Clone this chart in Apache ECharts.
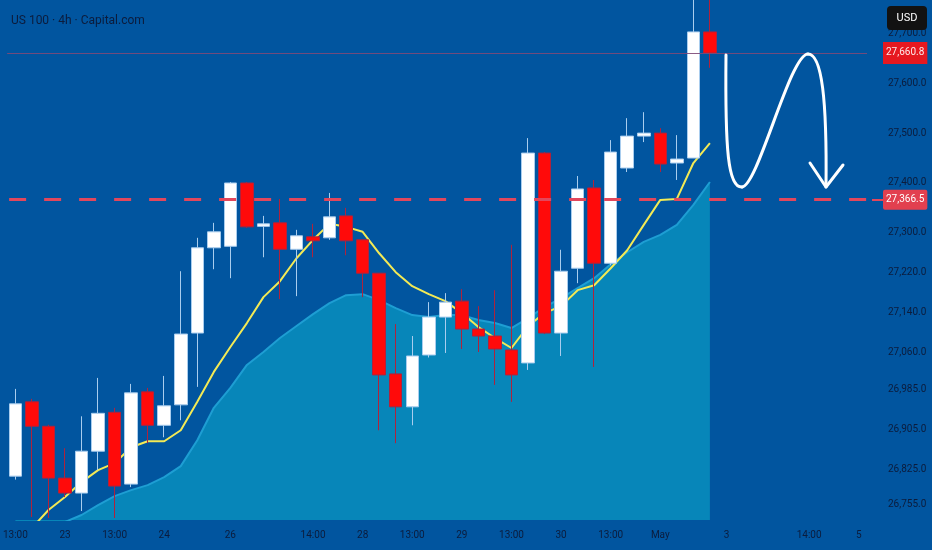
<!DOCTYPE html>
<html>
<head>
<meta charset="utf-8">
<script src="https://cdn.jsdelivr.net/npm/echarts@6/dist/echarts.min.js"></script>
<style>
html,body{margin:0;padding:0;background:#01559f;}
#chart{width:932px;height:550px;}
</style>
</head>
<body>
<div id="chart"></div>
<script>
// x categories (4h bars) — label text where shown, '' otherwise
const categories = ['13:00','','','23','','','13:00','','','24','','','','26','','','','','14:00','','','28','','','13:00','','','29','','','13:00','','','30','','','13:00','','','May','','','','3','','','','','14:00','','','5'];

// OHLC of each 4h candle
const opens  = [26812,26961,26912,26808,26778,26862,26940,26796,26981,26914,26955,27099,27270,27273,27400,27313,27320,27267,27292,27290,27334,27286,27219,27017,26951,27055,27131,27163,27107,27093,27065,27039,27460,27099,27229,27390,27239,27430,27494,27500,27440,27450,27703];
const closes = [26957,26912,26808,26778,26862,26938,26792,26979,26914,26953,27097,27270,27302,27400,27312,27318,27267,27294,27284,27332,27284,27219,27015,26951,27053,27131,27161,27107,27093,27067,27015,27460,27099,27223,27388,27239,27462,27494,27500,27438,27448,27703,27660.8];
const lows   = [26805,26730,26728,26770,26742,26824,26728,26790,26878,26890,26924,26991,27227,27209,27310,27251,27167,27173,27251,27286,27255,27171,26904,26878,26914,27050,27059,27067,27061,26995,26961,27025,27097,27053,27199,27031,27235,27422,27482,27422,27406,27450,27631];
const highs  = [26987,26967,26915,26868,26932,27009,26949,26997,26989,27013,27223,27290,27320,27402,27402,27334,27368,27306,27318,27380,27350,27286,27219,27117,27093,27161,27179,27187,27153,27185,27276,27490,27462,27266,27414,27406,27486,27530,27542,27510,27496,27790,27790];

// fast moving average (yellow line)
const maFast = [26684,26708,26744,26770,26800,26824,26838,26870,26882,26882,26904,26961,27021,27071,27119,27171,27203,27249,27286,27318,27312,27302,27259,27221,27193,27177,27163,27139,27111,27089,27069,27113,27139,27153,27185,27195,27229,27265,27316,27366,27368,27440,27480];
// slow moving average (filled area)
const maSlow = [26684,26694,26708,26720,26734,26754,26772,26784,26794,26810,26832,26884,26949,26989,27035,27061,27089,27113,27137,27159,27175,27177,27165,27149,27135,27131,27135,27135,27125,27119,27109,27129,27151,27169,27189,27209,27237,27261,27282,27296,27316,27356,27402];

// price scale labels
const yTicks = [27700,27600,27500,27400,27300,27220,27140,27060,26985,26905,26825,26755];
const lastPrice = 27660.8;
const levelPrice = 27366.5;

const FONT = 'Roboto, "Noto Sans", sans-serif';
const TXT = '#0c1c3c';
const fmt = v => Number(v).toLocaleString('en-US',{minimumFractionDigits:1,maximumFractionDigits:1});

const candleData = opens.map((o,i)=>[o, closes[i], lows[i], highs[i]]);

const chart = echarts.init(document.getElementById('chart'), null, {renderer:'canvas'});
chart.setOption({
  backgroundColor:'#01559f',
  animation:false,
  title:{
    text:'US 100 · 4h · Capital.com',
    left:6, top:10,
    textStyle:{color:TXT,fontSize:12,fontWeight:'normal',fontFamily:FONT}
  },
  grid:{left:1.68, right:65, top:0, bottom:30, containLabel:false},
  xAxis:{
    type:'category',
    data:categories,
    boundaryGap:true,
    axisLine:{show:false},
    axisTick:{show:false},
    splitLine:{show:false},
    axisLabel:{interval:0,color:TXT,fontSize:10,fontFamily:FONT,margin:10}
  },
  yAxis:{
    type:'value',
    position:'right',
    min:26724, max:27767,
    scale:true,
    axisLine:{show:false},
    axisTick:{show:false},
    splitLine:{show:false},
    axisLabel:{
      customValues:yTicks,
      color:TXT,fontSize:10,fontFamily:FONT,margin:21,
      formatter:v=>fmt(v)
    }
  },
  series:[
    {
      name:'MA slow',
      type:'line',
      data:maSlow,
      symbol:'none',
      z:1,
      lineStyle:{color:'#1e9ed3',width:2},
      areaStyle:{color:'#0786b9',opacity:1},
      silent:true
    },
    {
      name:'MA fast',
      type:'line',
      data:maFast,
      symbol:'none',
      z:2,
      lineStyle:{color:'#f3ea55',width:2},
      silent:true
    },
    {
      name:'US100',
      type:'candlestick',
      data:candleData,
      barWidth:13,
      z:3,
      itemStyle:{
        color:'#ffffff',
        color0:'#ff0a0a',
        borderColor:'#a9cdee',
        borderColor0:'#b0223c',
        borderWidth:1
      },
      markLine:{
        silent:true,
        symbol:'none',
        animation:false,
        data:[
          {
            yAxis:lastPrice,
            lineStyle:{color:'#7d4a78',width:1,type:'solid',opacity:0.9},
            label:{
              show:true,position:'end',distance:16,
              formatter:()=>fmt(lastPrice),
              color:'#ffffff',backgroundColor:'#ff1212',
              padding:[6,3,6,3],fontSize:10,fontFamily:FONT
            }
          },
          {
            yAxis:levelPrice,
            lineStyle:{color:'#e2475c',width:3,type:[17,18],dashOffset:-2},
            label:{
              show:true,position:'end',distance:16,
              formatter:()=>fmt(levelPrice),
              color:'#ffffff',backgroundColor:'#e2404f',
              padding:[5,3,5,3],fontSize:10,fontFamily:FONT,borderRadius:2
            }
          }
        ]
      }
    }
  ],
  graphic:[
    {type:'rect',z:100,shape:{x:887,y:6,width:40,height:24,r:4},style:{fill:'#121212'}},
    {type:'text',z:101,style:{x:907,y:18,text:'USD',fill:'#ffffff',font:'11px '+FONT,align:'center',verticalAlign:'middle'}},
    {type:'line',z:40,shape:{x1:872,y1:200,x2:883,y2:200},style:{stroke:'#e2475c',lineWidth:2}},
    {type:'bezierCurve',z:50,shape:{x1:726,y1:55,cpx1:725,cpy1:150,cpx2:728,cpy2:188,x2:742,y2:187},style:{stroke:'#ffffff',lineWidth:3,fill:null,lineCap:'round'}},
    {type:'bezierCurve',z:50,shape:{x1:742,y1:187,cpx1:758,cpy1:186,cpx2:790,cpy2:54,x2:808,y2:54},style:{stroke:'#ffffff',lineWidth:3,fill:null,lineCap:'round'}},
    {type:'bezierCurve',z:50,shape:{x1:808,y1:54,cpx1:822,cpy1:54,cpx2:827,cpy2:100,x2:826,y2:187},style:{stroke:'#ffffff',lineWidth:3,fill:null,lineCap:'round'}},
    {type:'polyline',z:50,shape:{points:[[810,163],[826,187],[843,165]]},style:{stroke:'#ffffff',lineWidth:3,fill:null,lineCap:'round',lineJoin:'round'}}
  ]
});
</script>
</body>
</html>
